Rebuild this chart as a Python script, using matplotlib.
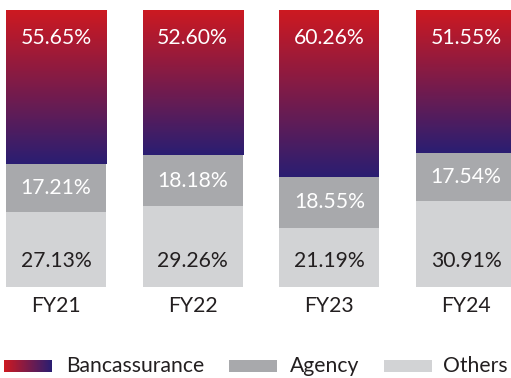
import numpy as np
import matplotlib
matplotlib.use("Agg")
import matplotlib.pyplot as plt
from matplotlib.colors import LinearSegmentedColormap
from matplotlib.patches import Rectangle

plt.rcParams['font.family'] = ['Lato', 'DejaVu Sans']

years = ["FY21", "FY22", "FY23", "FY24"]
bancassurance = [55.65, 52.60, 60.26, 51.55]
agency = [17.21, 18.18, 18.55, 17.54]
others = [27.13, 29.26, 21.19, 30.91]

RED = "#CD1921"
NAVY = "#2A1E72"
AGENCY_C = "#A8A9AC"
OTHERS_C = "#D2D3D5"
DARK = "#231F20"

grad = LinearSegmentedColormap.from_list("banca", [NAVY, RED])

W, H = 511, 378
fig = plt.figure(figsize=(W / 100, H / 100), dpi=100)

# main plotting area: y from 0 to 100 (%), bars at integer positions
ax_bottom = (H - 286.7) / H
ax_height = 276.7 / H
ax = fig.add_axes([0, ax_bottom, 1, ax_height])
unit = 136.7
x0 = 56.0
ax.set_xlim(-x0 / unit, (W - x0) / unit)
ax.set_ylim(0, 100)
bw = 100 / unit

x = np.arange(len(years))
ax.bar(x, others, width=bw, color=OTHERS_C, linewidth=0)
ax.bar(x, agency, width=bw, bottom=others, color=AGENCY_C, linewidth=0)
banca_bottom = np.array(others) + np.array(agency)
bars = ax.bar(x, bancassurance, width=bw, bottom=banca_bottom,
              color="none", linewidth=0)

# vertical gradient inside every bancassurance segment
g = np.linspace(0, 1, 256).reshape(-1, 1)
for b in bars:
    bx, by = b.get_x(), b.get_y()
    bwid, bh = b.get_width(), b.get_height()
    im = ax.imshow(g, cmap=grad, aspect="auto", origin="lower",
                   extent=[bx, bx + bwid, by, by + bh], zorder=2)
    im.set_clip_path(b)

px = 100 / 276.7  # data units per pixel vertically
fs = 15.2
for i in range(len(years)):
    ax.text(x[i], 100 - 28 * px, f"{bancassurance[i]:.2f}%", ha="center",
            va="center", color="white", fontsize=fs, zorder=3)
    ax.text(x[i], others[i] + agency[i] / 2, f"{agency[i]:.2f}%",
            ha="center", va="center", color="white", fontsize=fs, zorder=3)
    ax.text(x[i], 26 * px, f"{others[i]:.2f}%", ha="center", va="center",
            color=DARK, fontsize=fs, zorder=3)

ax.set_xticks(x)
ax.set_xticklabels(years, fontsize=fs, color=DARK)
ax.tick_params(axis="x", length=0, pad=7)
ax.set_yticks([])
for s in ax.spines.values():
    s.set_visible(False)

# legend drawn in pixel coordinates
lg = fig.add_axes([0, 0, 1, 1], facecolor="none")
lg.set_xlim(0, W)
lg.set_ylim(H, 0)
lg.axis("off")
ly = 366
lg.imshow(np.linspace(0, 1, 64).reshape(1, -1),
          cmap=LinearSegmentedColormap.from_list("lgrad", [RED, NAVY]),
          aspect="auto", extent=[4, 52, ly + 6, ly - 6])
lg.add_patch(Rectangle((229, ly - 6), 48, 12, color=AGENCY_C, lw=0))
lg.add_patch(Rectangle((384, ly - 6), 48, 12, color=OTHERS_C, lw=0))
for tx, label in [(66, "Bancassurance"), (290, "Agency"), (443, "Others")]:
    lg.text(tx, ly, label, ha="left", va="center", fontsize=fs, color=DARK)
lg.set_xlim(0, W)
lg.set_ylim(H, 0)

fig.savefig("out.png", dpi=100)
